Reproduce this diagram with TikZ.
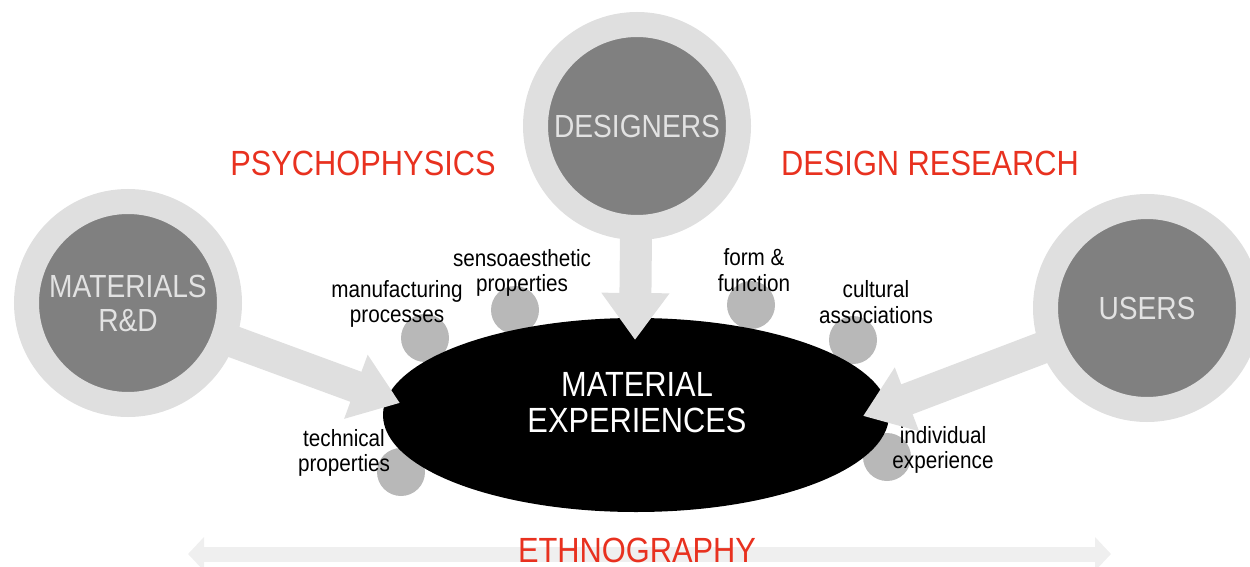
\documentclass[tikz,border=0pt]{standalone}
\usepackage{fontspec}
\setmainfont{Liberation Sans}[FakeStretch=0.88]
\usetikzlibrary{shapes.geometric, arrows.meta}

\definecolor{ringgray}{HTML}{DFDFDF}
\definecolor{coregray}{HTML}{808080}
\definecolor{dotgray}{HTML}{B8B8B8}
\definecolor{bandgray}{HTML}{EFEFEF}
\definecolor{labelred}{HTML}{E8311F}
\definecolor{captiongray}{HTML}{E2E2E2}

\tikzset{
  actor/.style={circle, fill=coregray, draw=ringgray, line width=25pt,
    minimum size=203pt, inner sep=0pt, text=captiongray,
    font=\fontsize{32}{34}\selectfont, align=center},
  core/.style={ellipse, fill=black, minimum width=506pt, minimum height=194pt,
    inner sep=0pt},
  coretext/.style={text=white, font=\fontsize{35}{36}\selectfont, align=center},
  aspectdot/.style={circle, fill=dotgray, minimum size=48pt, inner sep=0pt},
  aspect/.style={font=\fontsize{23.5}{25.5}\selectfont, align=center},
  field/.style={text=labelred, font=\fontsize{35}{40}\selectfont},
  flow/.style={ringgray, line width=32pt, shorten <=-4pt,
    -{Triangle[width=65pt,length=47pt]}},
  band/.style={bandgray, line width=15pt,
    {Triangle[width=33pt,length=16pt]}-{Triangle[width=33pt,length=16pt]}}
}

\begin{document}
\begin{tikzpicture}[x=1pt, y=-1pt]
\useasboundingbox (0,0) rectangle (1250,567);
\clip (0,0) rectangle (1250,567);

% Dots behind the ellipse
\foreach \n/\x/\y in {manu/425/338, senso/515/310, form/751/305,
                      cult/853/340, tech/401/472, indiv/887/457}
  \node[aspectdot] (d\n) at (\x,\y) {};

% Central ellipse
\node[core] (exp) at (636,415) {};
\node[coretext] (exptext) at (637,403) {MATERIAL\\EXPERIENCES};

% Aspect labels
\foreach \n/\x/\y/\txt in {manu/397/304/manufacturing\\processes,
                           senso/522/273/sensoaesthetic\\properties,
                           form/754/270/form \&\\function,
                           cult/876/302/cultural\\associations,
                           tech/344/453/technical\\properties,
                           indiv/943/450/individual\\experience}
  \node[aspect] (l\n) at (\x,\y) {\txt};

% Actors
\node[actor] (des) at (637,126) {DESIGNERS};
\node[actor] (mat) at (128,303) {MATERIALS\\R\&D};
\node[actor] (usr) at (1147,308) {USERS};

% Flows into the ellipse
\coordinate (tipD) at (635,340);
\coordinate (tipM) at (400,403);
\coordinate (tipU) at (863,416);
\draw[flow] (des) -- (tipD);
\draw[flow] (mat) -- (tipM);
\draw[flow] (usr) -- (tipU);

% Fields
\node[field] (psy) at (363,163) {PSYCHOPHYSICS};
\node[field] (dres) at (930,163) {DESIGN RESEARCH};

% Ethnography band
\coordinate (ethL) at (188,554);
\coordinate (ethR) at (1111,554);
\draw[band] (ethL) -- (ethR);
\node[field] (eth) at (637,550) {ETHNOGRAPHY};

\end{tikzpicture}
\end{document}
